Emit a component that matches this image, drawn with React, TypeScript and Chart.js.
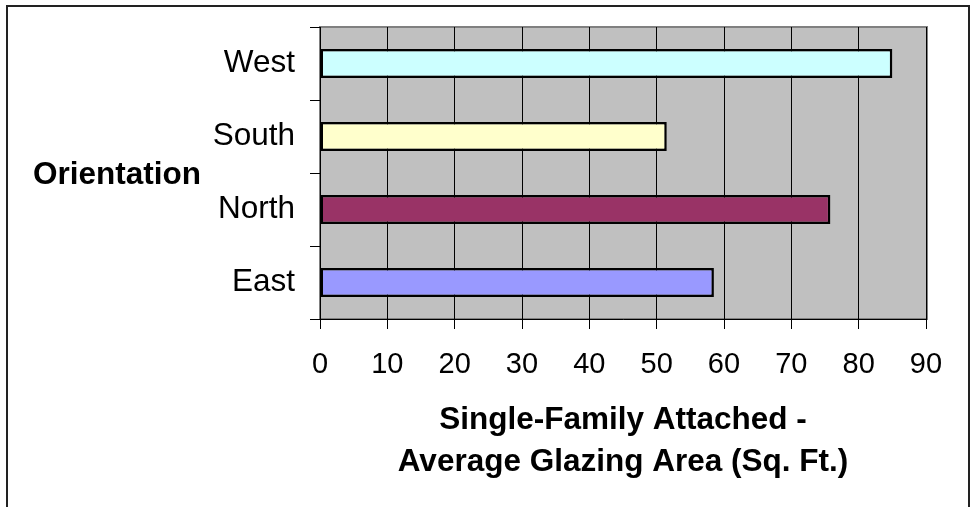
import { useEffect, useRef } from 'react';
import { Chart, registerables } from 'chart.js';

Chart.register(...registerables);

const categories = ['West', 'South', 'North', 'East'];
const glazingArea = [85, 51.5, 75.8, 58.5];
const barColors = ['#CCFFFF', '#FFFFCC', '#993366', '#9999FF'];
const xMin = 0;
const xMax = 90;
const xStep = 10;
const yAxisTitle = 'Orientation';
const xAxisTitle = ['Single-Family Attached -', 'Average Glazing Area (Sq. Ft.)'];

const FONT = '"Liberation Sans", Arial, sans-serif';

const decorPlugin = {
  id: 'decor',
  beforeDraw(chart: any) {
    const { ctx, chartArea } = chart;
    const { left, top, right, bottom } = chartArea;
    ctx.save();
    ctx.fillStyle = '#ffffff';
    ctx.fillRect(0, 0, chart.width, chart.height);
    ctx.fillStyle = '#C0C0C0';
    ctx.fillRect(left, top, right - left, bottom - top);
    ctx.strokeStyle = '#808080';
    ctx.lineWidth = 2;
    ctx.strokeRect(left, top, right - left + 1, bottom - top);
    ctx.restore();
  },
  afterDraw(chart: any) {
    const { ctx } = chart;
    ctx.save();
    ctx.strokeStyle = '#222222';
    ctx.lineWidth = 2;
    ctx.beginPath();
    ctx.moveTo(7, chart.height + 10);
    ctx.lineTo(7, 6);
    ctx.lineTo(969, 6);
    ctx.lineTo(969, chart.height + 10);
    ctx.stroke();
    ctx.font = `bold 31.5px ${FONT}`;
    ctx.fillStyle = '#000000';
    ctx.textAlign = 'left';
    ctx.textBaseline = 'alphabetic';
    ctx.fillText(yAxisTitle, 33, 184);
    ctx.restore();
  },
};

export default function App() {
  const ref = useRef<HTMLCanvasElement>(null);
  useEffect(() => {
    document.body.style.margin = '0';
    const chart = new Chart(ref.current as HTMLCanvasElement, {
      type: 'bar',
      data: {
        labels: categories,
        datasets: [
          {
            data: glazingArea,
            backgroundColor: barColors,
            borderColor: '#000000',
            borderWidth: 2.5,
            borderSkipped: false,
            barPercentage: 0.4,
            categoryPercentage: 1,
          },
        ],
      },
      options: {
        indexAxis: 'y',
        responsive: false,
        animation: false,
        layout: { padding: { top: 27, right: 45, left: 0, bottom: 0 } },
        plugins: {
          legend: { display: false },
          tooltip: { enabled: false },
        },
        scales: {
          x: {
            min: xMin,
            max: xMax,
            afterFit: (scale: any) => {
              scale.height = 188;
              scale.paddingLeft = 0;
              scale.paddingRight = 0;
            },
            ticks: {
              stepSize: xStep,
              color: '#000000',
              padding: 19,
              font: { family: FONT, size: 29 },
              maxRotation: 0,
            },
            grid: {
              color: '#000000',
              lineWidth: 1,
              tickLength: 10,
              drawOnChartArea: true,
            },
            border: { display: true, color: '#000000', width: 1 },
            title: {
              display: true,
              text: xAxisTitle,
              color: '#000000',
              font: { family: FONT, size: 31.5, weight: 'bold', lineHeight: 1.333 },
              padding: { top: 0, bottom: 24 },
            },
          },
          y: {
            afterFit: (scale: any) => {
              scale.width = 320;
              scale.paddingTop = 0;
              scale.paddingBottom = 0;
            },
            ticks: {
              color: '#000000',
              padding: 15,
              font: { family: FONT, size: 31.5 },
            },
            grid: {
              color: '#000000',
              lineWidth: 1,
              tickLength: 10,
              drawOnChartArea: false,
              offset: true,
            },
            border: { display: true, color: '#000000', width: 1 },
          },
        },
      },
      plugins: [decorPlugin],
    });
    return () => chart.destroy();
  }, []);
  return (
    <div style={{ position: 'absolute', left: 0, top: 0, width: 971, height: 507 }}>
      <canvas ref={ref} width={971} height={507} style={{ display: 'block', width: 971, height: 507 }} />
    </div>
  );
}
